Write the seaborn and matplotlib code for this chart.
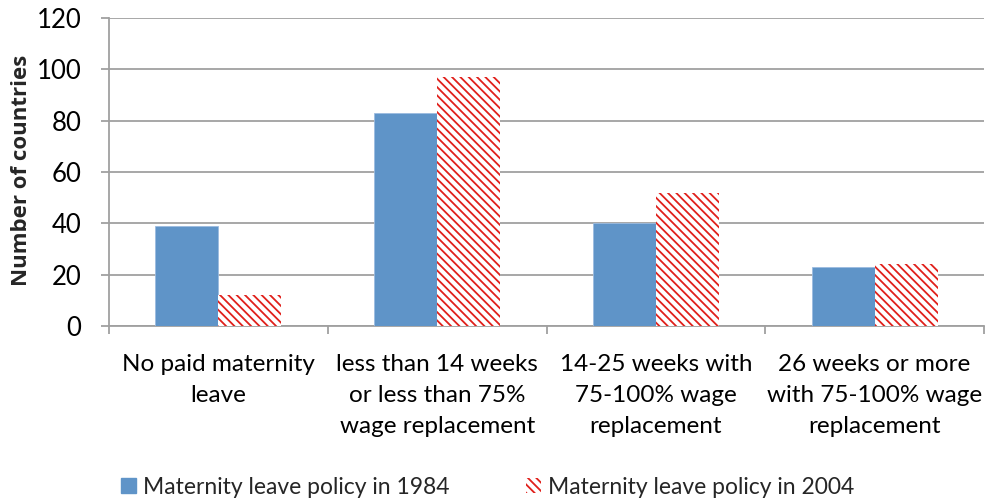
import matplotlib
matplotlib.use("Agg")
import matplotlib.pyplot as plt
import seaborn as sns
import pandas as pd
from matplotlib.patches import Patch

categories = ["No paid maternity\nleave",
              "less than 14 weeks\nor less than 75%\nwage replacement",
              "14-25 weeks with\n75-100% wage\nreplacement",
              "26 weeks or more\nwith 75-100% wage\nreplacement"]
series_names = ["Maternity leave policy in 1984", "Maternity leave policy in 2004"]
values_1984 = [39, 83, 40, 23]
values_2004 = [12, 97, 52, 24]
yticks = [0, 20, 40, 60, 80, 100, 120]

df = pd.DataFrame({
    "category": categories * 2,
    "series": [series_names[0]] * 4 + [series_names[1]] * 4,
    "value": values_1984 + values_2004,
})

sns.set_theme(style="white")
plt.rcParams['font.family'] = ['Lato', 'DejaVu Sans']
plt.rcParams['hatch.linewidth'] = 1.3

W, H = 985, 501
fig = plt.figure(figsize=(W / 100, H / 100), dpi=100)
ax = fig.add_axes([109 / W, 1 - 326 / H, (984 - 109) / W, (326 - 18) / H])

blue = "#5f94c8"
red = "#e0201b"
HATCH = "\\\\\\\\"
sns.barplot(data=df, x="category", y="value", hue="series", order=categories,
            hue_order=series_names, palette=[blue, "white"], width=0.575,
            gap=0, saturation=1, ax=ax, legend=False, zorder=3)

for cont, name in zip(ax.containers, series_names):
    for p in cont:
        if name == series_names[1]:
            p.set_hatch(HATCH)
            p.set_edgecolor(red)
            p.set_linewidth(0)
            p.set_facecolor("white")
        else:
            p.set_edgecolor("#9cbbe0")
            p.set_linewidth(0.6)

ax.set_ylim(0, 120)
ax.set_xlim(-0.5, 3.5)
ax.set_yticks(yticks)
ax.set_yticklabels([str(t) for t in yticks], fontsize=18.5, color="#000000")
ax.yaxis.grid(True, color="#a0a0a0", linewidth=1.3, zorder=0)
ax.set_axisbelow(True)
for s in ["top", "right"]:
    ax.spines[s].set_visible(False)
for s in ["left", "bottom"]:
    ax.spines[s].set_color("#a0a0a0")
    ax.spines[s].set_linewidth(1.3)

ax.tick_params(axis="y", which="major", length=6, width=1.3, color="#a0a0a0",
               left=True, pad=14)
ax.set_xticks([0, 1, 2, 3])
ax.set_xticklabels(categories, fontsize=17.5, color="#000000", linespacing=1.6)
ax.tick_params(axis="x", which="major", length=0, pad=20)
ax.set_xticks([-0.5, 0.5, 1.5, 2.5, 3.5], minor=True)
ax.tick_params(axis="x", which="minor", length=6, width=1.3, color="#a0a0a0",
               bottom=True)
ax.set_xlabel("")
ax.set_ylabel("")
fig.text(22 / W, 1 - 170 / H, "Number of countries", rotation=90,
         ha="center", va="center", fontsize=16, fontweight="bold",
         family=["Open Sans", "DejaVu Sans"])

handles = [Patch(facecolor=blue, edgecolor=blue),
           Patch(facecolor="white", edgecolor=red, hatch=HATCH, linewidth=0)]
fig.legend(handles, series_names, loc="center left",
           bbox_to_anchor=(121 / W, 1 - 487 / H), ncol=2, frameon=False,
           fontsize=16.5, handlelength=0.65, handleheight=0.6, handletextpad=0.3,
           columnspacing=3.35, borderaxespad=0, borderpad=0)

fig.savefig("out.png", dpi=100)
